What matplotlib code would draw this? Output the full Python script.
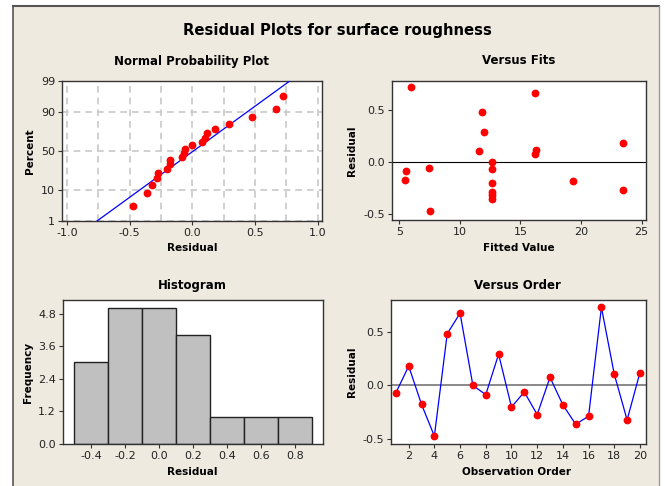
import matplotlib
matplotlib.use("Agg")
import matplotlib.pyplot as plt
import numpy as np
from statistics import NormalDist
from matplotlib.patches import Rectangle
from matplotlib.lines import Line2D

# residuals in observation order
residuals = [-0.07, 0.18, -0.175, -0.47, 0.48, 0.67, 0.0, -0.085, 0.29, -0.20,
             -0.06, -0.27, 0.075, -0.18, -0.36, -0.285, 0.725, 0.105, -0.32, 0.12]
fitted = [12.65, 23.5, 5.44, 7.55, 11.84, 16.2, 12.65, 5.55, 12.0, 12.65,
          7.47, 23.43, 16.18, 19.34, 12.65, 12.65, 6.0, 11.57, 12.65, 16.26]
order = list(range(1, 21))

# histogram bins
bin_centers = [-0.4, -0.2, 0.0, 0.2, 0.4, 0.6, 0.8]
bin_counts = [3, 5, 5, 4, 1, 1, 1]

pct_ticks = [1, 10, 50, 90, 99]

BG = "#EFEAE0"
RED = "#FF0000"
BLUE = "#0000FF"
TXT = "#222222"
GRID = "#C8C8C8"

W, H = 665, 486
fig = plt.figure(figsize=(W / 100, H / 100), dpi=100)
fig.patch.set_facecolor("white")

# beige panel with border
fig.patches.append(Rectangle((13 / W, 0), (659 - 13) / W, 1 - 6 / H,
                             transform=fig.transFigure, facecolor=BG,
                             edgecolor="none", zorder=-10))
fig.lines.append(Line2D([13 / W, 13 / W], [0, 1 - 6 / H], transform=fig.transFigure,
                        color="#555555", lw=1.2))
fig.lines.append(Line2D([13 / W, 659 / W], [1 - 6 / H, 1 - 6 / H], transform=fig.transFigure,
                        color="#555555", lw=1.5))
fig.lines.append(Line2D([659 / W, 659 / W], [0, 1 - 6 / H], transform=fig.transFigure,
                        color="#999999", lw=1.0))


def make_ax(x0, y0, x1, y1):
    ax = fig.add_axes([x0 / W, 1 - y1 / H, (x1 - x0) / W, (y1 - y0) / H])
    ax.set_facecolor("white")
    for s in ax.spines.values():
        s.set_color("#333333")
        s.set_linewidth(1.0)
    ax.tick_params(direction="out", length=3, width=0.8, color="#333333",
                   labelsize=8, labelcolor=TXT, pad=2)
    return ax


def ftext(x, y, s, size=7.5, rot=0, weight="bold"):
    fig.text(x / W, 1 - y / H, s, ha="center", va="center", fontsize=size,
             fontweight=weight, rotation=rot, color="black")


ftext(337, 30, "Residual Plots for surface roughness", size=10.7)

# --- Normal probability plot ---
nd = NormalDist()
ax1 = make_ax(62, 81, 322, 221)
srt = np.sort(residuals)
n = len(srt)
pp = (np.arange(1, n + 1) - 0.3) / (n + 0.4)
zz = [nd.inv_cdf(p) for p in pp]
zlo, zhi = nd.inv_cdf(0.01), nd.inv_cdf(0.99)
mu, sd = np.mean(residuals), np.std(residuals, ddof=1)
zline = np.linspace(zlo, zhi, 50)
ax1.plot(mu + sd * zline, zline, color=BLUE, lw=0.9, zorder=3)
ax1.plot(srt, zz, "o", color=RED, ms=4.6, zorder=4)
ax1.set_xlim(-1.04, 1.035)
ax1.set_ylim(zlo, zhi)
ax1.set_xticks([-1.0, -0.5, 0.0, 0.5, 1.0])
ax1.set_xticks(np.arange(-1.0, 1.01, 0.25), minor=True)
ax1.set_xticklabels(["-1.0", "-0.5", "0.0", "0.5", "1.0"])
ax1.set_yticks([nd.inv_cdf(p / 100) for p in pct_ticks])
ax1.set_yticklabels([str(p) for p in pct_ticks])
ax1.tick_params(which="minor", length=0)
ax1.grid(True, which="both", color=GRID, ls=(0, (4, 3)), lw=1.2, zorder=0)
ax1.set_axisbelow(True)
ftext(192, 61, "Normal Probability Plot", size=8.5)
ftext(192, 248, "Residual")
ftext(30, 151, "Percent", rot=90)

# --- Versus fits ---
ax2 = make_ax(392, 81, 646, 220)
ax2.axhline(0, color="black", lw=0.8, zorder=1)
ax2.plot(fitted, residuals, "o", color=RED, ms=4.6, zorder=3)
ax2.set_xlim(4.4, 25.36)
ax2.set_ylim(-0.56, 0.783)
ax2.set_xticks([5, 10, 15, 20, 25])
ax2.set_yticks([-0.5, 0.0, 0.5])
ax2.set_yticklabels(["-0.5", "0.0", "0.5"])
ftext(519, 61, "Versus Fits", size=8.5)
ftext(519, 248, "Fitted Value")
ftext(352, 151, "Residual", rot=90)

# --- Histogram ---
ax3 = make_ax(63, 300, 323, 444)
ax3.bar(bin_centers, bin_counts, width=0.2, color="#C0C0C0",
        edgecolor="#222222", linewidth=1.0)
ax3.set_xlim(-0.567, 0.965)
ax3.set_ylim(0, 5.3)
ax3.set_xticks(bin_centers)
ax3.set_xticklabels(["%.1f" % c for c in bin_centers])
ax3.set_yticks([0.0, 1.2, 2.4, 3.6, 4.8])
ax3.set_yticklabels(["0.0", "1.2", "2.4", "3.6", "4.8"])
ftext(192, 285, "Histogram", size=8.5)
ftext(192, 472, "Residual")
ftext(28, 372, "Frequency", rot=90)

# --- Versus order ---
ax4 = make_ax(391, 300, 646, 444)
ax4.axhline(0, color="#808080", lw=1.3, zorder=1)
ax4.plot(order, residuals, "-", color=BLUE, lw=0.9, zorder=2)
ax4.plot(order, residuals, "o", color=RED, ms=4.6, zorder=3)
ax4.set_xlim(0.625, 20.47)
ax4.set_ylim(-0.543, 0.793)
ax4.set_xticks(range(2, 21, 2))
ax4.set_yticks([-0.5, 0.0, 0.5])
ax4.set_yticklabels(["-0.5", "0.0", "0.5"])
ftext(517, 285, "Versus Order", size=8.5)
ftext(517, 472, "Observation Order")
ftext(352, 372, "Residual", rot=90)

fig.savefig("out.png", dpi=100, facecolor=fig.get_facecolor())
